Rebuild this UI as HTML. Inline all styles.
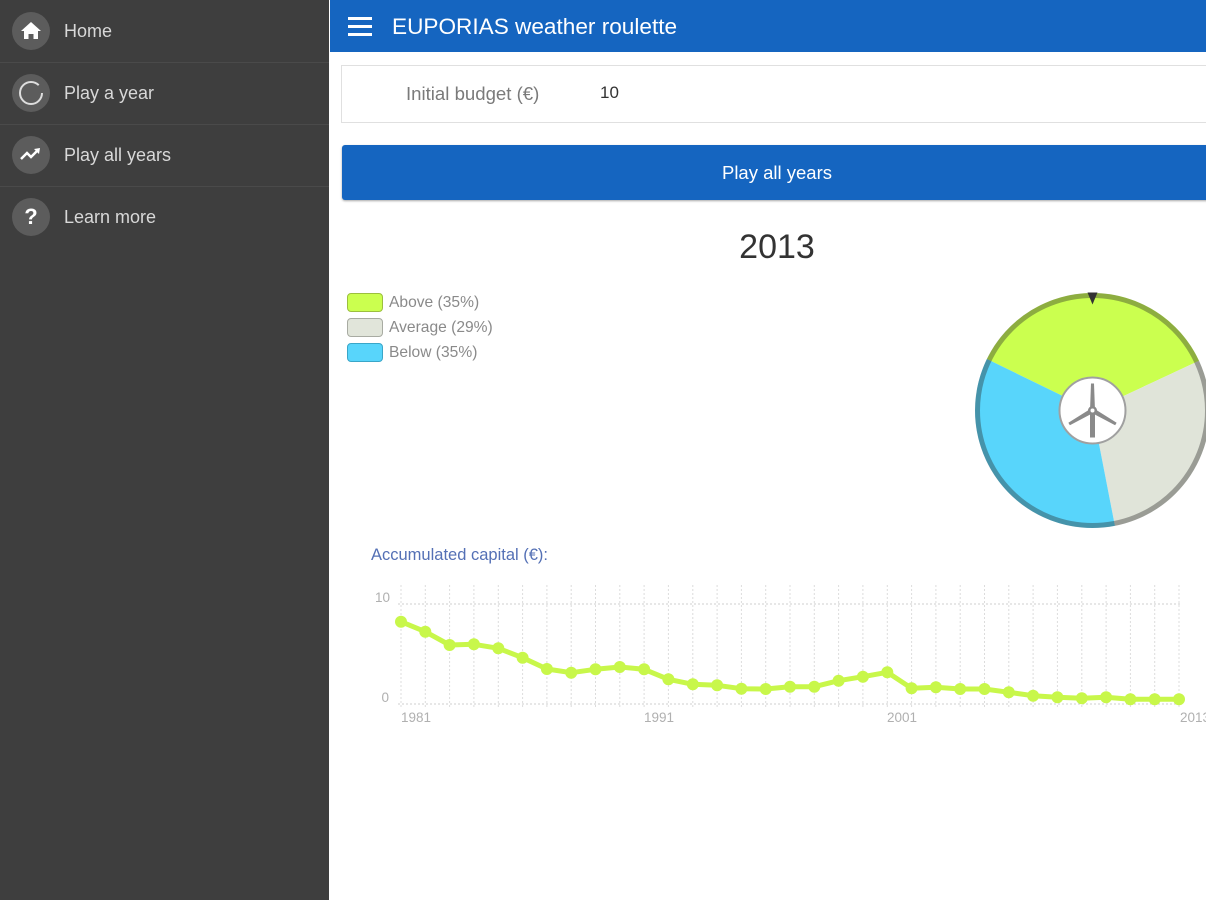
<!DOCTYPE html>
<html><head><meta charset="utf-8">
<style>
html,body{margin:0;padding:0;width:1206px;height:900px;overflow:hidden;background:#fff;font-family:"Liberation Sans",sans-serif;}
.side{position:absolute;left:0;top:0;width:329px;height:900px;background:#3e3e3e;}
.item{position:absolute;left:0;width:329px;height:62px;border-bottom:1px solid #4a4a4a;}
.ic{position:absolute;left:12px;top:12px;width:38px;height:38px;border-radius:50%;background:#5c5c5c;}
.it{position:absolute;left:64px;top:21px;font-size:18px;color:#d8d8d8;}
.hdr{position:absolute;left:330px;top:0;width:876px;height:52px;background:#1565c0;}
.hdr .t{position:absolute;left:62px;top:14px;font-size:22.6px;color:#fff;}
.box{position:absolute;left:341px;top:65px;width:880px;height:56px;border:1px solid #e0e0e0;}
.btn{position:absolute;left:342px;top:145px;width:880px;height:55px;background:#1565c0;border-radius:3px;box-shadow:0 1px 2px rgba(0,0,0,0.35);}
.lg{position:absolute;left:347px;width:34px;height:17px;border-radius:4px;}
.lt{position:absolute;left:389px;font-size:15.6px;color:#8a8a8a;}
</style></head><body>
<div class="side">
  <div class="item" style="top:0;">
    <div class="ic"><svg width="38" height="38"><path d="M19 10 L29 19 L26 19 L26 27 L21.5 27 L21.5 22 L16.5 22 L16.5 27 L12 27 L12 19 L9 19 Z" fill="#fff"/></svg></div>
    <div class="it">Home</div>
  </div>
  <div class="item" style="top:62px;">
    <div class="ic"><svg width="38" height="38"><circle cx="19" cy="19" r="11" fill="none" stroke="#ddd" stroke-width="2" stroke-dasharray="60 9"/></svg></div>
    <div class="it">Play a year</div>
  </div>
  <div class="item" style="top:124px;">
    <div class="ic"><svg width="38" height="38"><path d="M9 23 L15 17 L19 21 L26 14" fill="none" stroke="#fff" stroke-width="2.5"/><path d="M22 13 L28 12 L27 18 Z" fill="#fff"/></svg></div>
    <div class="it">Play all years</div>
  </div>
  <div class="item" style="top:186px;border-bottom:none;">
    <div class="ic"><div style="position:absolute;left:0;top:6px;width:38px;text-align:center;color:#fff;font-weight:bold;font-size:22px;">?</div></div>
    <div class="it">Learn more</div>
  </div>
</div>
<div class="hdr">
  <svg style="position:absolute;left:18px;top:17px" width="24" height="20"><rect x="0" y="0" width="24" height="3" fill="#fff"/><rect x="0" y="8" width="24" height="3" fill="#fff"/><rect x="0" y="16" width="24" height="3" fill="#fff"/></svg>
  <div class="t">EUPORIAS weather roulette</div>
</div>
<div class="box">
  <div style="position:absolute;left:64px;top:17px;font-size:18.6px;color:#7a7a7a;">Initial budget (€)</div>
  <div style="position:absolute;left:258px;top:17px;font-size:17px;color:#333;">10</div>
</div>
<div class="btn"><div style="position:absolute;left:0;width:870px;top:17px;text-align:center;color:#fff;font-size:18.5px;">Play all years</div></div>
<div style="position:absolute;left:677px;width:200px;top:228px;text-align:center;font-size:34px;color:#333;">2013</div>

<div class="lg" style="top:293px;background:#cbff4f;border:1px solid #9cbf3e;"></div>
<div class="lt" style="top:294px;">Above (35%)</div>
<div class="lg" style="top:318px;background:#e1e5da;border:1px solid #a8aba2;"></div>
<div class="lt" style="top:319px;">Average (29%)</div>
<div class="lg" style="top:343px;background:#58d5fb;border:1px solid #3aa6c8;"></div>
<div class="lt" style="top:344px;">Below (35%)</div>

<svg style="position:absolute;left:0;top:0" width="1206" height="900">
  <g transform="translate(1092.5,410.5)">
    <path d="M0 0 L-105.6 -51.5 A117.5 117.5 0 0 1 106.5 -49.7 Z" fill="#cbff4f"/>
    <path d="M0 0 L106.5 -49.7 A117.5 117.5 0 0 1 22.4 115.3 Z" fill="#e0e4d9"/>
    <path d="M0 0 L22.4 115.3 A117.5 117.5 0 0 1 -105.6 -51.5 Z" fill="#58d5fb"/>
    <circle r="115" fill="none" stroke="rgba(40,40,40,0.38)" stroke-width="5"/>
    <path d="M-5 -118 L5 -118 L0 -106 Z" fill="#333"/>
    <circle r="33" fill="#fff" stroke="#a0a0a0" stroke-width="2"/>
    <g fill="#8a8a8a">
      <path d="M-2.5 0 L-1.5 -27 L1.5 -27 L2.5 0 Z"/>
      <path d="M-2.5 0 L-1.5 -27 L1.5 -27 L2.5 0 Z" transform="rotate(120)"/>
      <path d="M-2.5 0 L-1.5 -27 L1.5 -27 L2.5 0 Z" transform="rotate(240)"/>
      <rect x="-2.5" y="0" width="5" height="27"/>
      <circle r="4.5" fill="#8a8a8a"/>
      <circle r="2" fill="#fff"/>
    </g>
  </g>

  <text x="371" y="560" font-size="16.5" fill="#5470b5" font-family="Liberation Sans, sans-serif">Accumulated capital (€):</text>

  <g stroke="#cfcfcf" stroke-width="1" stroke-dasharray="2 2" fill="none">
    <line x1="398" y1="604" x2="1181" y2="604"/>
    <line x1="398" y1="704" x2="1181" y2="704"/>
  </g>
  <g id="vg" stroke="#dcdcdc" stroke-width="1" stroke-dasharray="2 2"></g>

  <g font-size="13.5" fill="#b0b0b0" font-family="Liberation Sans, sans-serif">
    <text x="390" y="602" text-anchor="end">10</text>
    <text x="389" y="702" text-anchor="end">0</text>
    <text x="401" y="722">1981</text>
    <text x="644" y="722">1991</text>
    <text x="887" y="722">2001</text>
    <text x="1180" y="722">2013</text>
  </g>
  <g id="series"></g>
</svg>
<script>
(function(){
  var ns="http://www.w3.org/2000/svg";
  var vg=document.getElementById('vg');
  var x0=401, dx=(1179-401)/32;
  for(var i=0;i<33;i++){
    var l=document.createElementNS(ns,'line');
    var x=(x0+i*dx).toFixed(1);
    l.setAttribute('x1',x);l.setAttribute('x2',x);
    l.setAttribute('y1',585);l.setAttribute('y2',708);
    vg.appendChild(l);
  }
  var ys=[621.7,631.7,645,644.3,648.3,657.7,669,672.7,669.3,667,669.3,679.3,684.3,685.3,688.7,689,686.7,686.7,680.7,676.7,672.3,688.3,687.3,689,689,692.3,695.7,697.3,698.3,697.3,699.3,699.3,699.3];
  var s=document.getElementById('series');
  var pts=ys.map(function(y,i){return (x0+i*dx).toFixed(1)+','+y;}).join(' ');
  var pl=document.createElementNS(ns,'polyline');
  pl.setAttribute('points',pts);pl.setAttribute('fill','none');
  pl.setAttribute('stroke','#c8f74a');pl.setAttribute('stroke-width','5');
  pl.setAttribute('stroke-linejoin','round');
  s.appendChild(pl);
  ys.forEach(function(y,i){
    var c=document.createElementNS(ns,'circle');
    c.setAttribute('cx',(x0+i*dx).toFixed(1));c.setAttribute('cy',y);
    c.setAttribute('r','6');c.setAttribute('fill','#c8f74a');
    s.appendChild(c);
  });
})();
</script>
</body></html>
